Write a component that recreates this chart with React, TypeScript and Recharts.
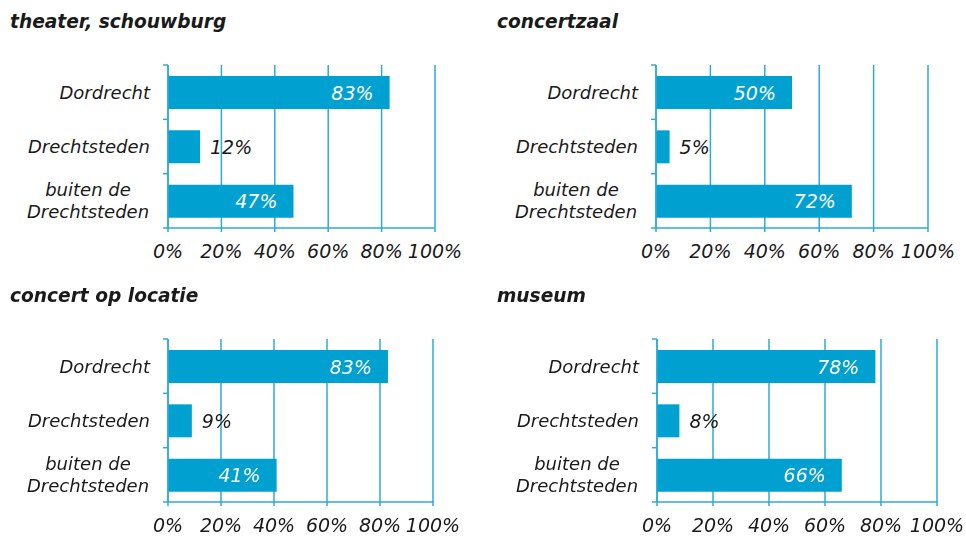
import React from 'react';
import { BarChart, Bar, XAxis, YAxis, CartesianGrid, LabelList } from 'recharts';

const categories = ['Dordrecht', 'Drechtsteden', 'buiten de Drechtsteden'];
const theaterValues = [83, 12, 47];
const concertzaalValues = [50, 5, 72];
const locatieValues = [83, 9, 41];
const museumValues = [78, 8, 66];
const xTicks = [0, 20, 40, 60, 80, 100];

const BLUE = '#00a1d1';
const LINE = '#2eaad9';
const TEXT = '#1a1a1a';
const FONT = '"DejaVu Sans", Verdana, sans-serif';
const BAND = 54.3;

const panels = [
  { title: 'theater, schouwburg', values: theaterValues, left: 0, top: 0, axisWidth: 168, right: 48 },
  { title: 'concertzaal', values: concertzaalValues, left: 483, top: 0, axisWidth: 173, right: 38 },
  { title: 'concert op locatie', values: locatieValues, left: 0, top: 274, axisWidth: 168, right: 50 },
  { title: 'museum', values: museumValues, left: 483, top: 274, axisWidth: 174, right: 29 },
];

const CategoryTick = (props: any) => {
  const { x, y, payload, index } = props;
  const label: string = payload.value;
  const lines = label === 'buiten de Drechtsteden' ? ['buiten de', 'Drechtsteden'] : [label];
  const ax = x + 18;
  return (
    <g>
      <line x1={ax - 5} x2={ax} y1={y - BAND / 2} y2={y - BAND / 2} stroke={LINE} strokeWidth={1.5} />
      {index === categories.length - 1 && (
        <line x1={ax - 5} x2={ax} y1={y + BAND / 2} y2={y + BAND / 2} stroke={LINE} strokeWidth={1.5} />
      )}
      {lines.length === 1 ? (
        <text x={x} y={y} textAnchor="end" dominantBaseline="central" fontSize={18} fontStyle="italic" fontFamily={FONT} fill={TEXT}>
          {label}
        </text>
      ) : (
        lines.map((l, i) => (
          <text
            key={l}
            x={x - 62}
            y={y + (i === 0 ? -11 : 11)}
            textAnchor="middle"
            dominantBaseline="central"
            fontSize={18}
            fontStyle="italic"
            fontFamily={FONT}
            fill={TEXT}
          >
            {l}
          </text>
        ))
      )}
    </g>
  );
};

const ValueLabel = (props: any) => {
  const { x, y, width, height, value } = props;
  const inside = value >= 20;
  return (
    <text
      x={inside ? x + width - 16 : x + width + 10}
      y={y + height / 2}
      textAnchor={inside ? 'end' : 'start'}
      dominantBaseline="central"
      fontSize={19}
      fontStyle="italic"
      fontFamily={FONT}
      fill={inside ? '#ffffff' : TEXT}
    >
      {value}%
    </text>
  );
};

const Panel = ({ title, values, left, top, axisWidth, right }: any) => {
  const rows = categories.map((c, i) => ({ name: c, value: values[i] }));
  return (
    <div style={{ position: 'absolute', left, top, width: 483, height: 270 }}>
      <div
        style={{
          position: 'absolute',
          left: left === 0 ? 10 : 14,
          top: 12,
          fontFamily: FONT,
          fontWeight: 'bold',
          fontStyle: 'italic',
          fontSize: 18.6,
          lineHeight: '20px',
          color: TEXT,
          whiteSpace: 'nowrap',
        }}
      >
        {title}
      </div>
      <BarChart
        width={483}
        height={270}
        layout="vertical"
        data={rows}
        margin={{ top: 65, right: right, left: 0, bottom: 12 }}
        barCategoryGap={0}
      >
        <CartesianGrid horizontal={false} vertical stroke={LINE} strokeWidth={1.5} />
        <XAxis
          type="number"
          domain={[0, 100]}
          ticks={xTicks}
          tickFormatter={(v: number) => `${v}%`}
          axisLine={{ stroke: LINE, strokeWidth: 1.5 }}
          tickLine={{ stroke: LINE, strokeWidth: 1.5 }}
          tickSize={4}
          tickMargin={13}
          height={30}
          interval={0}
          tick={{ fontSize: 19, fontStyle: 'italic', fontFamily: FONT, fill: TEXT }}
        />
        <YAxis
          type="category"
          dataKey="name"
          width={axisWidth}
          axisLine={{ stroke: LINE, strokeWidth: 1.5 }}
          tickLine={false}
          tickSize={5}
          tickMargin={13}
          interval={0}
          tick={<CategoryTick />}
        />
        <Bar dataKey="value" fill={BLUE} barSize={33} isAnimationActive={false}>
          <LabelList dataKey="value" content={<ValueLabel />} />
        </Bar>
      </BarChart>
    </div>
  );
};

export default function App() {
  return (
    <div style={{ position: 'fixed', left: 0, top: 0, width: 966, height: 536, background: '#ffffff' }}>
      {panels.map((p) => (
        <Panel key={p.title} {...p} />
      ))}
    </div>
  );
}
